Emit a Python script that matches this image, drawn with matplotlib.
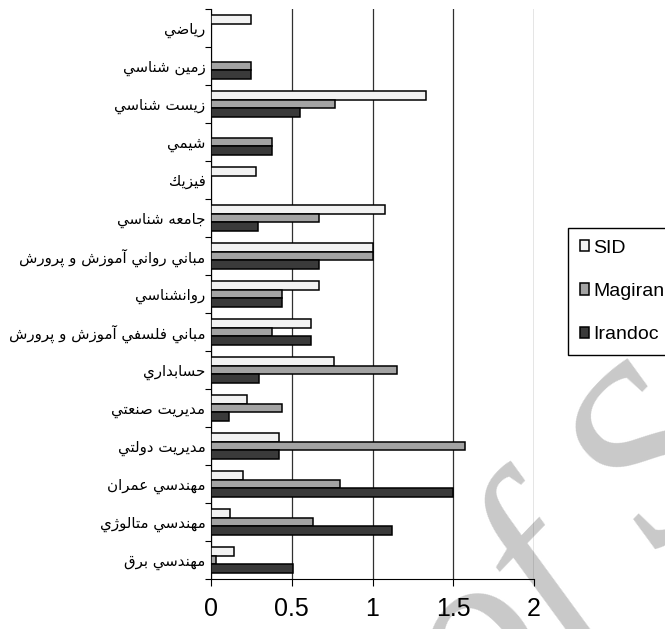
import matplotlib
matplotlib.use('Agg')
import matplotlib.pyplot as plt
from matplotlib.patches import Rectangle
import numpy as np

# data (top row first)
categories = ["رياضي", "زمين شناسي", "زيست شناسي", "شيمي", "فيزيك", "جامعه شناسي",
              "مباني رواني آموزش و پرورش", "روانشناسي", "مباني فلسفي آموزش و پرورش",
              "حسابداري", "مديريت صنعتي", "مديريت دولتي", "مهندسي عمران",
              "مهندسي متالوژي", "مهندسي برق"]
sid = [0.25, 0, 1.33, 0, 0.28, 1.08, 1.0, 0.67, 0.62, 0.76, 0.22, 0.42, 0.20, 0.12, 0.14]
magiran = [0, 0.25, 0.77, 0.38, 0, 0.67, 1.0, 0.44, 0.38, 1.15, 0.44, 1.57, 0.80, 0.63, 0.03]
irandoc = [0, 0.25, 0.55, 0.38, 0, 0.29, 0.67, 0.44, 0.62, 0.30, 0.11, 0.42, 1.50, 1.12, 0.51]
series_names = ["SID", "Magiran", "Irandoc"]
x_ticks = [0, 0.5, 1, 1.5, 2]
x_ticklabels = ["0", "0.5", "1", "1.5", "2"]

# matplotlib does no arabic shaping, so pick presentation forms by hand
# (isolated, final, initial, medial); None = letter does not join forward
FORMS = {
    'ا': ('\uFE8D', '\uFE8E', None, None),
    'آ': ('\uFE81', '\uFE82', None, None),
    'ب': ('\uFE8F', '\uFE90', '\uFE91', '\uFE92'),
    'پ': ('\uFB56', '\uFB57', '\uFB58', '\uFB59'),
    'ت': ('\uFE95', '\uFE96', '\uFE97', '\uFE98'),
    'ج': ('\uFE9D', '\uFE9E', '\uFE9F', '\uFEA0'),
    'ح': ('\uFEA1', '\uFEA2', '\uFEA3', '\uFEA4'),
    'د': ('\uFEA9', '\uFEAA', None, None),
    'ر': ('\uFEAD', '\uFEAE', None, None),
    'ز': ('\uFEAF', '\uFEB0', None, None),
    'ژ': ('\uFB8A', '\uFB8B', None, None),
    'س': ('\uFEB1', '\uFEB2', '\uFEB3', '\uFEB4'),
    'ش': ('\uFEB5', '\uFEB6', '\uFEB7', '\uFEB8'),
    'ص': ('\uFEB9', '\uFEBA', '\uFEBB', '\uFEBC'),
    'ض': ('\uFEBD', '\uFEBE', '\uFEBF', '\uFEC0'),
    'ع': ('\uFEC9', '\uFECA', '\uFECB', '\uFECC'),
    'ف': ('\uFED1', '\uFED2', '\uFED3', '\uFED4'),
    'ق': ('\uFED5', '\uFED6', '\uFED7', '\uFED8'),
    'ك': ('\uFED9', '\uFEDA', '\uFEDB', '\uFEDC'),
    'ل': ('\uFEDD', '\uFEDE', '\uFEDF', '\uFEE0'),
    'م': ('\uFEE1', '\uFEE2', '\uFEE3', '\uFEE4'),
    'ن': ('\uFEE5', '\uFEE6', '\uFEE7', '\uFEE8'),
    'ه': ('\uFEE9', '\uFEEA', '\uFEEB', '\uFEEC'),
    'و': ('\uFEED', '\uFEEE', None, None),
    'ي': ('\uFEF1', '\uFEF2', '\uFEF3', '\uFEF4'),
}


def shape(text):
    out = []
    for i, c in enumerate(text):
        if c not in FORMS:
            out.append(c)
            continue
        iso, fin, ini, med = FORMS[c]
        prev = text[i - 1] if i > 0 else None
        nxt = text[i + 1] if i + 1 < len(text) else None
        jp = prev in FORMS and FORMS[prev][2] is not None
        jn = ini is not None and nxt in FORMS
        if jp and jn:
            out.append(med)
        elif jp:
            out.append(fin)
        elif jn:
            out.append(ini)
        else:
            out.append(iso)
    return ''.join(reversed(out))


plt.rcParams['font.family'] = ['Liberation Sans', 'DejaVu Sans']

fig = plt.figure(figsize=(6.65, 6.29), dpi=100)
ax = fig.add_axes([211 / 665, 1 - 579 / 629, 323 / 665, 570 / 629])

# faint watermark of the scanned source, behind the axes
fig.text(0.725, -0.18, "of SID", fontsize=180, family='Liberation Serif', style='italic',
         color='#c9c9c9', rotation=46, rotation_mode='anchor',
         ha='left', va='baseline', zorder=-1)

y = np.arange(len(categories))
h = 0.22
colors = ['#f2f2f2', '#a3a3a3', '#3a3a3a']
for k, (vals, col) in enumerate(zip([sid, magiran, irandoc], colors)):
    ax.barh(y + (k - 1) * h, vals, height=h, color=col, edgecolor='black',
            linewidth=1.1, zorder=3)

ax.set_ylim(len(categories) - 0.5, -0.5)
ax.set_xlim(0, 2)
ax.set_xticks(x_ticks)
ax.set_xticklabels(x_ticklabels, fontsize=18)
ax.set_yticks(np.arange(len(categories) + 1) - 0.5)
ax.set_yticklabels([])
ax.set_yticks(y, minor=True)
ax.set_yticklabels([shape(c) for c in categories], minor=True, fontsize=10.8,
                   family='DejaVu Sans')
ax.tick_params(axis='y', which='major', length=4, direction='out')
ax.tick_params(axis='y', which='minor', length=0, pad=4)
ax.tick_params(axis='x', length=5, direction='out', pad=8)

ax.grid(axis='x', color='#303030', linewidth=0.9, zorder=1)
ax.set_axisbelow(True)
for s in ['top', 'right']:
    ax.spines[s].set_visible(False)
ax.patch.set_alpha(0)

handles = [Rectangle((0, 0), 1, 1, facecolor=c, edgecolor='black', linewidth=1.1) for c in colors]
leg = ax.legend(handles, series_names, loc='upper left',
                bbox_to_anchor=(568 / 665, 1 - 228 / 629), bbox_transform=fig.transFigure,
                fancybox=False, edgecolor='black', framealpha=1, fontsize=14,
                handlelength=0.5, handleheight=0.5, handletextpad=0.2,
                labelspacing=1.35, borderpad=0.6, borderaxespad=0)
leg.get_frame().set_linewidth(1.0)

fig.savefig('out.png', dpi=100)
